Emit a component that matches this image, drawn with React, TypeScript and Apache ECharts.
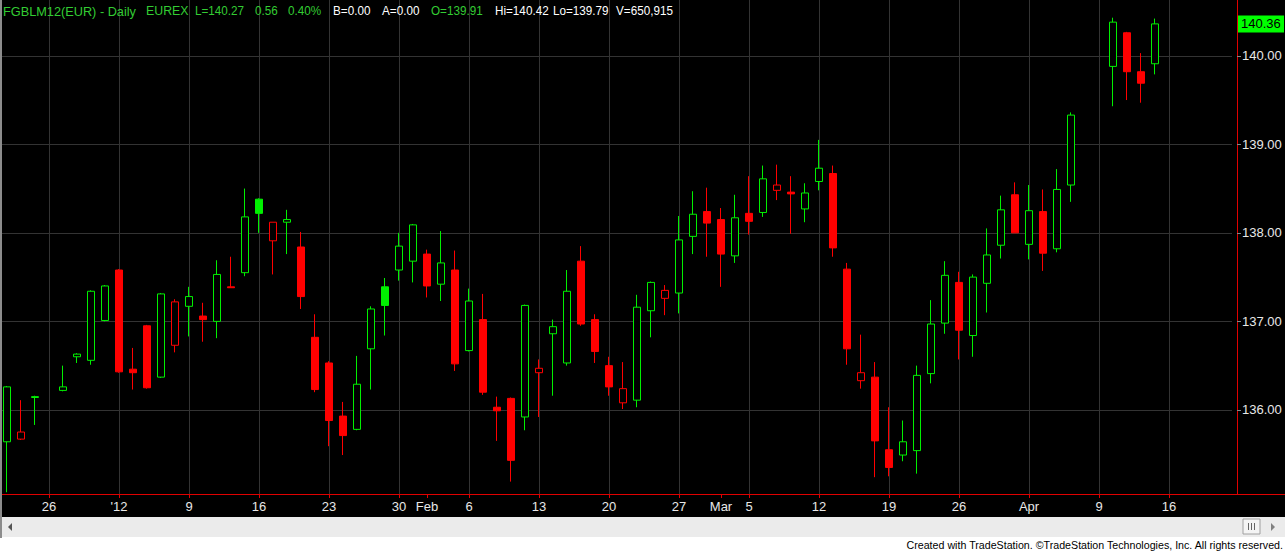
import React, { useEffect, useRef } from 'react';
import * as echarts from 'echarts';

const categories = [
  '2011-12-21', '2011-12-22', '2011-12-23',
  '2011-12-26', '2011-12-27', '2011-12-28', '2011-12-29', '2011-12-30',
  '2012-01-02', '2012-01-03', '2012-01-04', '2012-01-05', '2012-01-06',
  '2012-01-09', '2012-01-10', '2012-01-11', '2012-01-12', '2012-01-13',
  '2012-01-16', '2012-01-17', '2012-01-18', '2012-01-19', '2012-01-20',
  '2012-01-23', '2012-01-24', '2012-01-25', '2012-01-26', '2012-01-27',
  '2012-01-30', '2012-01-31', '2012-02-01', '2012-02-02', '2012-02-03',
  '2012-02-06', '2012-02-07', '2012-02-08', '2012-02-09', '2012-02-10',
  '2012-02-13', '2012-02-14', '2012-02-15', '2012-02-16', '2012-02-17',
  '2012-02-20', '2012-02-21', '2012-02-22', '2012-02-23', '2012-02-24',
  '2012-02-27', '2012-02-28', '2012-02-29', '2012-03-01', '2012-03-02',
  '2012-03-05', '2012-03-06', '2012-03-07', '2012-03-08', '2012-03-09',
  '2012-03-12', '2012-03-13', '2012-03-14', '2012-03-15', '2012-03-16',
  '2012-03-19', '2012-03-20', '2012-03-21', '2012-03-22', '2012-03-23',
  '2012-03-26', '2012-03-27', '2012-03-28', '2012-03-29', '2012-03-30',
  '2012-04-02', '2012-04-03', '2012-04-04', '2012-04-05', '2012-04-06',
  '2012-04-09', '2012-04-10', '2012-04-11', '2012-04-12', '2012-04-13',
  '2012-04-16', '2012-04-17', '2012-04-18', '2012-04-19', '2012-04-20',
];

const opens: (number | null)[] = [
  135.64, 135.67, 136.14,
  null, 136.22, 136.60, 136.56, 137.01,
  137.58, 136.46, 136.95, 136.37, 136.73,
  137.17, 137.06, 137.00, 137.39, 137.55,
  138.38, 137.91, 138.12, 137.84, 136.82,
  136.53, 135.93, 135.78, 136.69, 137.39,
  137.58, 137.68, 137.76, 137.42, 137.58,
  136.67, 137.02, 136.03, 136.13, 135.92,
  136.42, 136.86, 136.53, 137.68, 137.02,
  136.50, 136.08, 136.11, 137.12, 137.26,
  137.32, 137.96, 138.24, 138.15, 137.74,
  138.22, 138.23, 138.48, 138.46, 138.27,
  138.58, 138.67, 137.59, 136.33, 136.37,
  135.55, 135.49, 135.54, 136.41, 136.98,
  137.44, 136.84, 137.43, 137.86, 138.43,
  137.87, 138.24, 137.82, 138.54, null,
  null, 139.88, 140.26, 139.82, 139.91,
  null, null, null, null, null,
];

const highs: (number | null)[] = [
  136.27, 136.11, 136.16,
  null, 136.50, 136.64, 137.35, 137.41,
  137.59, 136.70, 136.96, 137.32, 137.25,
  137.39, 137.21, 137.69, 137.73, 138.50,
  138.39, 138.12, 138.26, 138.01, 137.08,
  136.55, 136.09, 136.61, 137.17, 137.49,
  138.00, 138.10, 137.81, 138.02, 137.80,
  137.37, 137.31, 136.15, 136.14, 137.19,
  136.57, 137.02, 137.58, 137.85, 137.08,
  136.60, 136.54, 137.30, 137.45, 137.41,
  138.19, 138.47, 138.51, 138.28, 138.43,
  138.64, 138.76, 138.77, 138.64, 138.56,
  139.05, 138.76, 137.66, 136.85, 136.54,
  136.03, 135.88, 136.50, 137.24, 137.68,
  137.56, 137.53, 138.05, 138.42, 138.57,
  138.54, 138.49, 138.72, 139.36, null,
  null, 140.43, 140.27, 140.03, 140.42,
  null, null, null, null, null,
];

const lows: (number | null)[] = [
  135.07, 135.66, 135.83,
  null, 136.21, 136.53, 136.51, 137.00,
  136.42, 136.23, 136.24, 136.36, 136.65,
  136.83, 136.77, 136.81, 137.38, 137.51,
  138.00, 137.53, 137.76, 137.14, 136.20,
  135.59, 135.49, 135.77, 136.23, 136.84,
  137.46, 137.44, 137.27, 137.23, 136.44,
  136.66, 136.17, 135.65, 135.19, 135.77,
  135.92, 136.16, 136.50, 136.95, 136.53,
  136.16, 136.01, 136.03, 136.82, 137.07,
  137.09, 137.76, 137.73, 137.39, 137.66,
  137.98, 138.18, 138.37, 137.99, 138.12,
  138.48, 137.73, 136.51, 136.24, 135.24,
  135.25, 135.42, 135.28, 136.30, 136.86,
  136.57, 136.60, 137.10, 137.71, 138.00,
  137.70, 137.57, 137.78, 138.35, null,
  null, 139.43, 139.50, 139.47, 139.79,
  null, null, null, null, null,
];

const closes: (number | null)[] = [
  136.26, 135.75, 136.15,
  null, 136.26, 136.63, 137.34, 137.40,
  136.43, 136.42, 136.25, 137.31, 137.22,
  137.28, 137.02, 137.53, 137.38, 138.18,
  138.22, 138.12, 138.15, 137.28, 136.23,
  135.88, 135.71, 136.29, 137.14, 137.18,
  137.85, 138.09, 137.40, 137.66, 136.52,
  137.23, 136.20, 135.99, 135.43, 137.18,
  136.47, 136.94, 137.34, 136.97, 136.66,
  136.26, 136.24, 137.16, 137.44, 137.35,
  137.92, 138.21, 138.11, 137.76, 138.17,
  138.13, 138.61, 138.54, 138.44, 138.45,
  138.73, 137.83, 136.69, 136.42, 135.65,
  135.35, 135.64, 136.39, 136.97, 137.52,
  136.90, 137.50, 137.75, 138.26, 138.00,
  138.25, 137.77, 138.49, 139.33, null,
  null, 140.38, 139.82, 139.69, 140.36,
  null, null, null, null, null,
];

const tickLabels: Record<string, string> = {
  '2011-12-26': '26',
  '2012-01-02': "'12",
  '2012-01-09': '9',
  '2012-01-16': '16',
  '2012-01-23': '23',
  '2012-01-30': '30',
  '2012-02-01': 'Feb',
  '2012-02-06': '6',
  '2012-02-13': '13',
  '2012-02-20': '20',
  '2012-02-27': '27',
  '2012-03-01': 'Mar',
  '2012-03-05': '5',
  '2012-03-12': '12',
  '2012-03-19': '19',
  '2012-03-26': '26',
  '2012-04-02': 'Apr',
  '2012-04-09': '9',
  '2012-04-16': '16',
};

const weekGridDates = [
  '2011-12-26', '2012-01-02', '2012-01-09', '2012-01-16', '2012-01-23',
  '2012-01-30', '2012-02-06', '2012-02-13', '2012-02-20', '2012-02-27',
  '2012-03-05', '2012-03-12', '2012-03-19', '2012-03-26', '2012-04-02',
  '2012-04-09', '2012-04-16',
];

const priceTicks = [136, 137, 138, 139, 140];
const lastPrice = 140.36;

const headerParts = [
  { text: 'FGBLM12(EUR) - Daily', x: 3, green: true, sx: 0.98 },
  { text: 'EUREX', x: 146, green: true, sx: 0.95 },
  { text: 'L=140.27', x: 195, green: true, sx: 0.9 },
  { text: '0.56', x: 255, green: true, sx: 0.9 },
  { text: '0.40%', x: 288, green: true, sx: 0.9 },
  { text: 'B=0.00', x: 333, green: false, sx: 0.9 },
  { text: 'A=0.00', x: 382, green: false, sx: 0.9 },
  { text: 'O=139.91', x: 431, green: true, sx: 0.9 },
  { text: 'Hi=140.42', x: 495, green: false, sx: 0.9 },
  { text: 'Lo=139.79', x: 553, green: false, sx: 0.9 },
  { text: 'V=650,915', x: 616, green: false, sx: 0.9 },
];

const FONT = "'Liberation Sans', Arial, sans-serif";

export default function App() {
  const ref = useRef<HTMLDivElement>(null);

  useEffect(() => {
    document.body.style.margin = '0';
    const chart = echarts.init(ref.current!, null, { renderer: 'svg' });
    const UP = '#00f000';
    const DOWN = '#ff0000';
    let prev: number | null = null;
    const data = categories.map((d, i) => {
      const o = opens[i];
      const h = highs[i];
      const l = lows[i];
      const c = closes[i];
      if (o == null || h == null || l == null || c == null) {
        return { value: ['-', '-', '-', '-'] };
      }
      const col = prev == null || c >= prev ? UP : DOWN;
      prev = c;
      const fill = c > o ? '#000000' : col;
      return {
        value: [o, c, l, h],
        itemStyle: { color: fill, color0: fill, borderColor: col, borderColor0: col, borderWidth: 1 },
      };
    });

    chart.setOption({
      animation: false,
      backgroundColor: '#000000',
      grid: { left: 0, top: 0, width: 1232, height: 494, containLabel: false },
      xAxis: {
        type: 'category',
        data: categories,
        boundaryGap: true,
        axisLine: { show: true, lineStyle: { color: '#e00000', width: 1 } },
        axisTick: {
          show: true,
          alignWithLabel: true,
          length: 4,
          interval: (_i: number, v: string) => !!tickLabels[v],
          lineStyle: { color: '#e00000' },
        },
        axisLabel: {
          interval: (_i: number, v: string) => !!tickLabels[v],
          formatter: (v: string) => tickLabels[v] ?? '',
          color: '#e8e8e8',
          fontFamily: FONT,
          fontSize: 13,
          margin: 6,
        },
        splitLine: { show: false },
      },
      yAxis: {
        type: 'value',
        position: 'right',
        offset: 5,
        min: 135.05,
        max: 140.63,
        axisLine: { show: true, lineStyle: { color: '#e00000', width: 1 } },
        axisTick: { show: true, length: 4, customValues: priceTicks, lineStyle: { color: '#888888' } },
        axisLabel: {
          customValues: priceTicks,
          formatter: (v: number) => v.toFixed(2),
          color: '#e8e8e8',
          fontFamily: FONT,
          fontSize: 13,
          margin: 5,
        },
        splitLine: { show: true, lineStyle: { color: '#333333', width: 1 } },
      },
      series: [
        {
          type: 'candlestick',
          data,
          barWidth: 8,
          z: 2,
          markLine: {
            silent: true,
            z: 1,
            symbol: ['none', 'none'],
            label: { show: false },
            emphasis: { disabled: true },
            lineStyle: { color: '#333333', type: 'solid', width: 1 },
            data: weekGridDates.map((d) => ({ xAxis: d })),
          },
        },
      ],
    });

    const py = chart.convertToPixel({ yAxisIndex: 0 }, lastPrice) as number;

    const graphics: any[] = [
      { type: 'rect', shape: { x: 0, y: 517, width: 1285, height: 35 }, style: { fill: '#ffffff' }, z: 10 },
      { type: 'rect', shape: { x: 0, y: 517, width: 1285, height: 20 }, style: { fill: '#ebebeb' }, z: 10 },
      { type: 'rect', shape: { x: 0, y: 0, width: 2, height: 538 }, style: { fill: '#8c8c8c' }, z: 11 },
      { type: 'polygon', shape: { points: [[8, 527], [12, 523], [12, 531]] }, style: { fill: '#555555' }, z: 11 },
      { type: 'rect', shape: { x: 1243, y: 519, width: 17, height: 15 }, style: { fill: '#f4f4f4', stroke: '#a0a0a0', lineWidth: 1 }, z: 11 },
      { type: 'line', shape: { x1: 1248.5, y1: 523, x2: 1248.5, y2: 530 }, style: { stroke: '#666666', lineWidth: 1 }, z: 12 },
      { type: 'line', shape: { x1: 1251.5, y1: 523, x2: 1251.5, y2: 530 }, style: { stroke: '#666666', lineWidth: 1 }, z: 12 },
      { type: 'line', shape: { x1: 1254.5, y1: 523, x2: 1254.5, y2: 530 }, style: { stroke: '#666666', lineWidth: 1 }, z: 12 },
      { type: 'polygon', shape: { points: [[1271, 523], [1271, 531], [1275, 527]] }, style: { fill: '#808080' }, z: 11 },
      { type: 'line', shape: { x1: 1232, y1: 494.5, x2: 1285, y2: 494.5 }, style: { stroke: '#e00000', lineWidth: 1 }, z: 11 },
      {
        type: 'text', x: 1283, y: 545, z: 12, scaleX: 0.97,
        style: {
          text: 'Created with TradeStation. ©TradeStation Technologies, Inc. All rights reserved.',
          fill: '#000000', font: `11px ${FONT}`, align: 'right', verticalAlign: 'middle',
        },
      },
      { type: 'rect', shape: { x: 1238, y: py - 8.5, width: 46, height: 17 }, style: { fill: '#00ff00' }, z: 12 },
      {
        type: 'text', x: 1241, y: py, z: 13,
        style: { text: lastPrice.toFixed(2), fill: '#000000', font: `13px ${FONT}`, align: 'left', verticalAlign: 'middle' },
      },
      ...headerParts.map((p) => ({
        type: 'text', x: p.x, y: 11, z: 12, scaleX: p.sx,
        style: { text: p.text, fill: p.green ? '#33cc33' : '#ffffff', font: `13px ${FONT}`, align: 'left', verticalAlign: 'middle' },
      })),
    ];
    chart.setOption({ graphic: graphics });

    return () => chart.dispose();
  }, []);

  return <div ref={ref} style={{ position: 'fixed', left: 0, top: 0, width: 1285, height: 552 }} />;
}
